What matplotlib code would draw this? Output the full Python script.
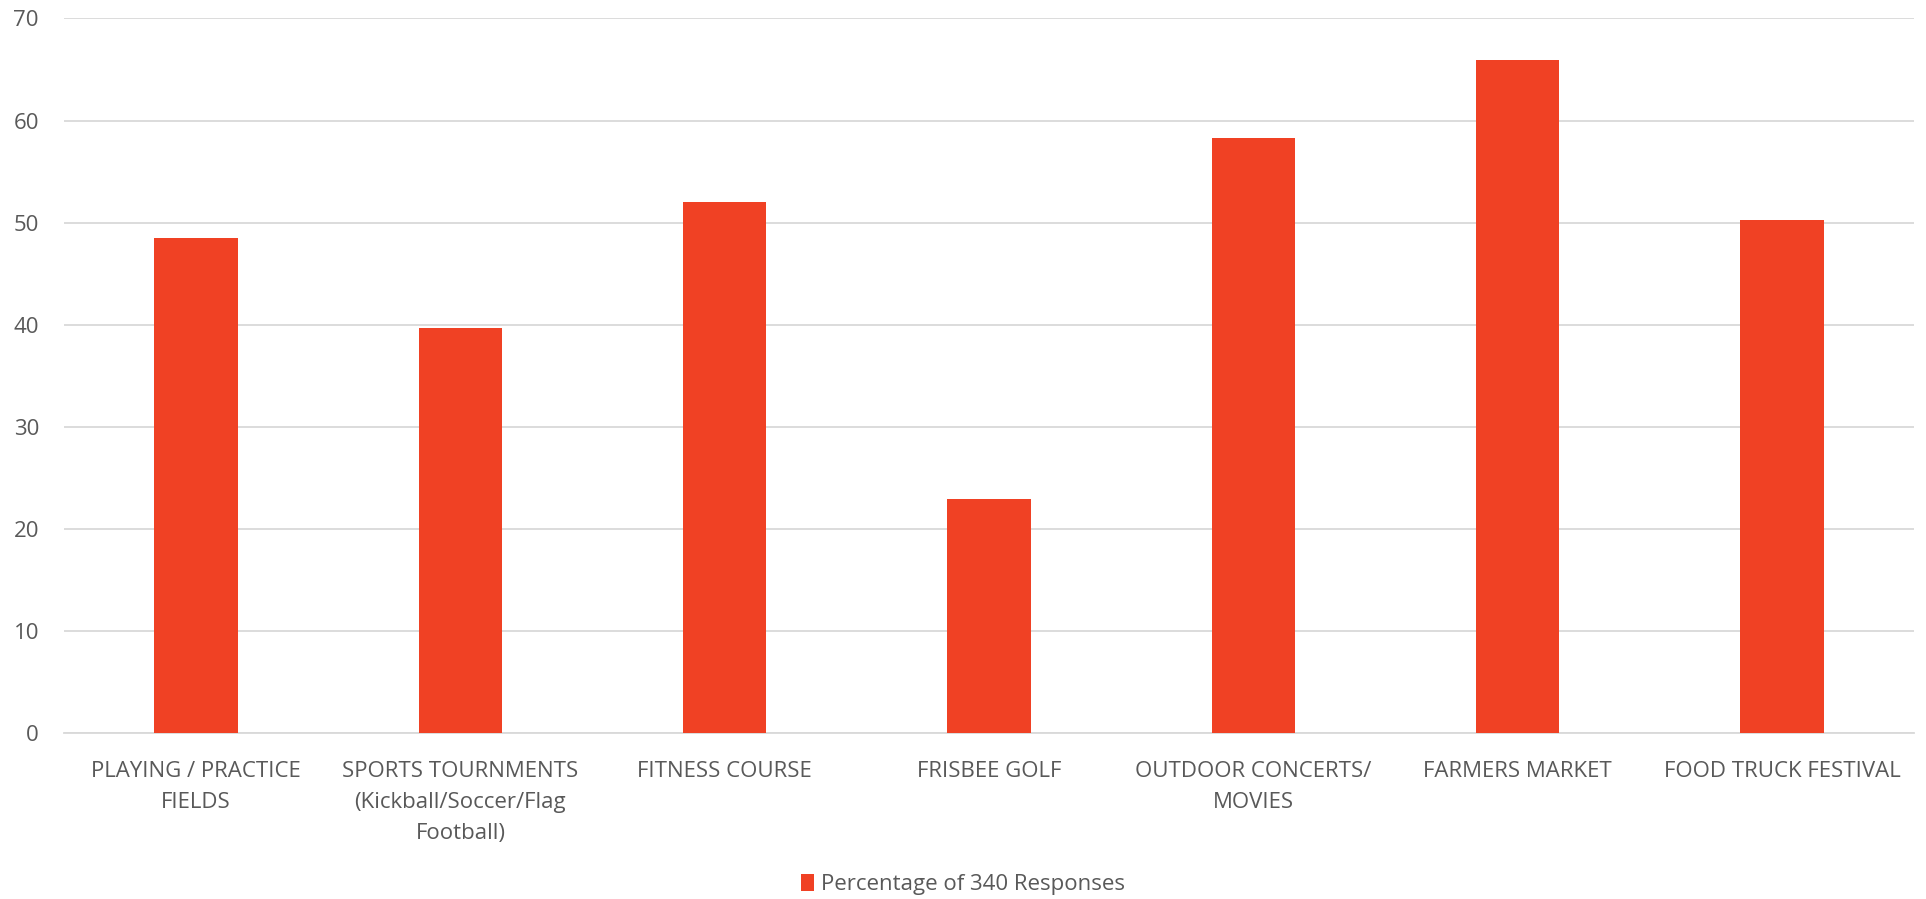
import numpy as np
import matplotlib.pyplot as plt

# Survey results
categories = ['PLAYING / PRACTICE\nFIELDS',
              'SPORTS TOURNMENTS\n(Kickball/Soccer/Flag\nFootball)',
              'FITNESS COURSE',
              'FRISBEE GOLF',
              'OUTDOOR CONCERTS/\nMOVIES',
              'FARMERS MARKET',
              'FOOD TRUCK FESTIVAL']
pct = [48.53, 39.71, 52.06, 22.94, 58.24, 65.88, 50.29]
yticks = [0, 10, 20, 30, 40, 50, 60, 70]
series_name = 'Percentage of 340 Responses'

plt.rcParams['font.family'] = ['Open Sans', 'DejaVu Sans']
txt = '#595959'
fs = 16

fig = plt.figure(figsize=(19.26, 8.99), dpi=100)
ax = fig.add_axes([0.0332, 0.1846, 0.9606, 0.7949])

x = np.arange(len(categories))
ax.bar(x, pct, width=0.316, color='#F04124', label=series_name, zorder=3)

ax.set_xlim(-0.5, len(categories) - 0.5)
ax.set_ylim(0, 70)
ax.set_yticks(yticks)
ax.grid(axis='y', color='#d9d9d9', lw=1.3, zorder=0)
for s in ['top', 'right', 'left']:
    ax.spines[s].set_visible(False)
ax.spines['bottom'].set_color('#d9d9d9')
ax.spines['bottom'].set_linewidth(1.3)

ax.set_xticks(x)
ax.set_xticklabels(categories, fontsize=fs, color=txt, linespacing=1.62, va='top')
ax.tick_params(axis='x', length=0, pad=20)
ax.tick_params(axis='y', length=0, pad=18, labelsize=fs, labelcolor=txt)

fig.legend(loc='lower center', bbox_to_anchor=(0.5, -0.018), frameon=False,
           fontsize=fs, labelcolor=txt, handlelength=0.6, handleheight=0.8,
           handletextpad=0.3)

plt.savefig('out.png', dpi=100)
